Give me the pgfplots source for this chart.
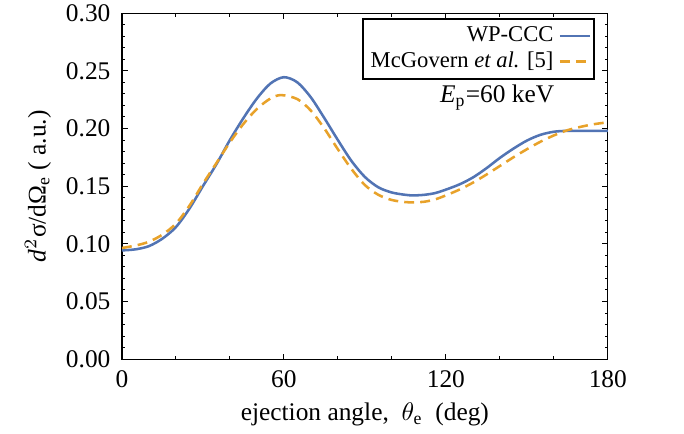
\documentclass[border=0pt]{standalone}
\usepackage{fontspec}
\setmainfont{Liberation Serif}
\usepackage{pgfplots}
\pgfplotsset{compat=1.18}
\definecolor{wpblue}{RGB}{82,116,180}
\definecolor{mcorange}{RGB}{232,162,42}
\begin{document}
\begin{tikzpicture}
\path[use as bounding box] (0,0) rectangle (269.3pt,170.5pt);
\begin{axis}[
  at={(48pt,29.1pt)}, anchor=south west,
  scale only axis, width=191.3pt, height=136.2pt,
  xmin=0, xmax=180, ymin=0, ymax=0.30,
  xtick={0,60,120,180}, minor x tick num=2,
  ytick={0,0.05,0.10,0.15,0.20,0.25,0.30}, minor y tick num=4,
  tick align=inside, major tick length=2.2pt, minor tick length=1.3pt,
  tick style={black, line width=0.4pt},
  axis line style={line width=0.5pt},
  /pgf/number format/assume math mode=true,
  yticklabel style={/pgf/number format/fixed, /pgf/number format/fixed zerofill, /pgf/number format/precision=2},
  scaled y ticks=false,
  xticklabel style={yshift=-1pt},
  yticklabel style={xshift=-1pt},
  xlabel={ejection angle,\ \ $\theta_{\mathrm{e}}$\ \ (deg)},
  ylabel={\textit{d}$^{2}$σ/dΩ$_{\mathrm{e}}$ ( a.u.)},
  xlabel style={yshift=1pt},
  ylabel style={yshift=-1pt},
  legend style={at={(0.973,0.985)}, anchor=north east, draw=black, line width=0.5pt,
    font=\fontsize{8.9pt}{10pt}\selectfont, inner sep=1pt, row sep=-1.5pt},
  legend cell align=right, legend plot pos=right,
  legend image post style={line width=1pt},
  legend image code/.code={\draw[#1] (0pt,0pt) -- (12pt,0pt);},
]
\addplot[wpblue, line width=1pt, smooth, tension=0.5] coordinates {
(0,0.0943) (5,0.0952) (10,0.0980) (15,0.1045) (20,0.1145) (25,0.1305) (30,0.150) (35,0.169)
(40,0.190) (45,0.209) (50,0.226) (55,0.239) (60,0.2445) (65,0.240) (70,0.227)
(75,0.209) (80,0.190) (85,0.172) (90,0.158) (95,0.149) (100,0.1445) (105,0.1425) (108,0.1420)
(112,0.1425) (116,0.144) (120,0.147) (125,0.1515) (130,0.1575) (135,0.1655) (140,0.1745)
(145,0.1825) (150,0.1895) (155,0.1945) (160,0.1972) (165,0.198) (170,0.198) (175,0.198) (180,0.198)
};
\addlegendentry{WP-CCC}
\addplot[mcorange, line width=1pt, smooth, tension=0.5, dash pattern=on 3.9pt off 2.4pt] coordinates {
(0,0.0964) (5,0.0985) (10,0.1018) (15,0.108) (20,0.1175) (25,0.133) (30,0.152) (35,0.170)
(40,0.188) (45,0.204) (50,0.217) (55,0.226) (59,0.229) (65,0.2255) (70,0.2155)
(75,0.200) (80,0.182) (85,0.165) (90,0.151) (95,0.1425) (100,0.1380) (105,0.1362) (108,0.1360)
(112,0.1365) (116,0.1385) (120,0.142) (125,0.147) (130,0.153) (135,0.160) (140,0.1675)
(145,0.175) (150,0.182) (155,0.1885) (160,0.194) (165,0.1985) (170,0.2015) (175,0.2038) (180,0.2054)
};
\addlegendentry{McGovern \textit{et al.} [5]}
\node[anchor=center] at (axis cs:139,0.227) {\textit{E}$_{\mathrm{p}}$=60 keV};
\end{axis}
\end{tikzpicture}
\end{document}
